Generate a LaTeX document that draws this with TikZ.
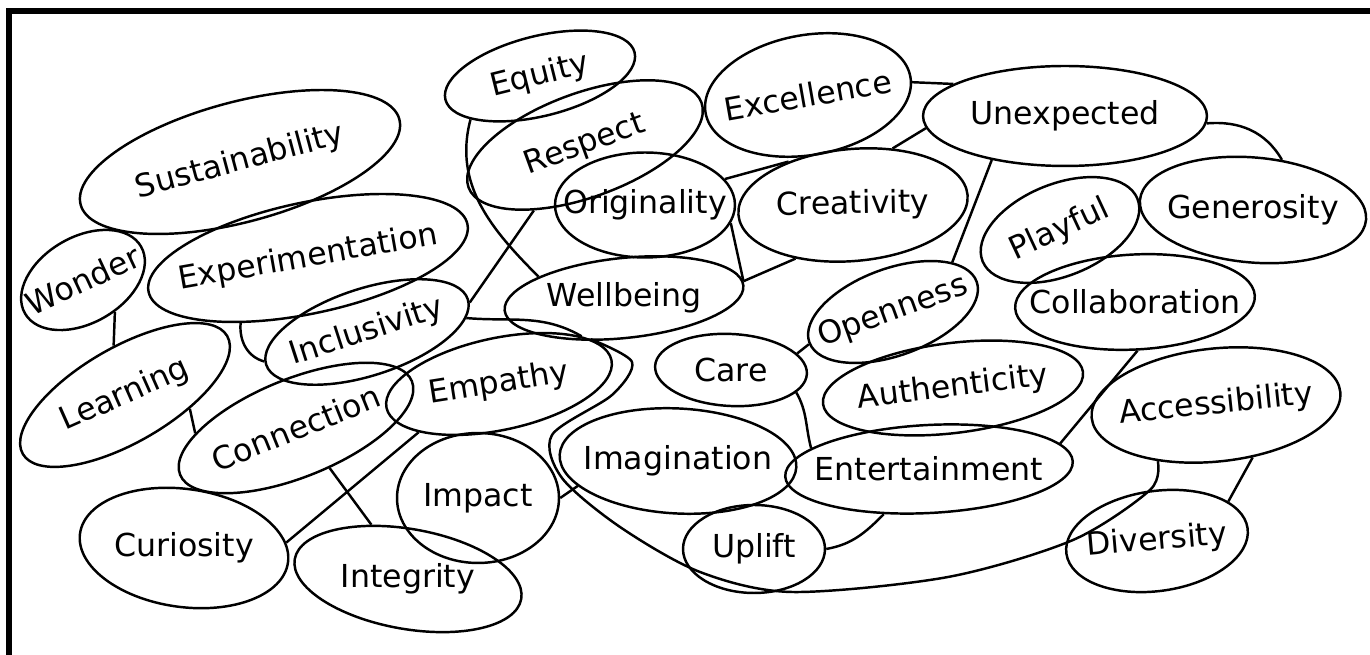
\documentclass[tikz,border=0pt]{standalone}
\usepackage{fontspec}
\usepackage{graphicx}
\setmainfont{DejaVu Sans}
\usetikzlibrary{shapes.geometric}

\newcommand{\word}[2][0]{\makebox[0pt]{\rotatebox[origin=c]{#1}{#2}}}

\begin{document}
\begin{tikzpicture}[x=0.02cm, y=0.02cm,
    blob/.style={ellipse, draw, line width=1.4pt, inner sep=0pt,
        font=\fontsize{18}{20}\selectfont},
    sz/.style 2 args={minimum width=#1cm, minimum height=#2cm},
    link/.style={line width=1.4pt}]
        \useasboundingbox (0,0) rectangle (1370,655);
        \clip (0,0) rectangle (1370,655);
        \draw[line width=3.4pt] (9,644) rectangle (1400,-50);

        % top row
        \node[blob, sz={6.6}{2.4}, rotate=15] (sus) at (240,493) {\word{Sustainability}};
        \node[blob, sz={3.9}{1.6}, rotate=14] (equ) at (540,579) {\word{Equity}};
        \node[blob, sz={4.96}{2.08}, rotate=20] (res) at (585,510) {\word{Respect}};
        \node[blob, sz={4.16}{2.4}, rotate=10] (exc) at (808,560) {\word{Excellence}};
        \node[blob, sz={5.68}{2.0}] (une) at (1065,539) {\word{Unexpected}};
        \node[blob, sz={4.54}{2.1}, rotate=-5] (gen) at (1253,445) {\word[5]{Generosity}};
        \node[blob, sz={3.34}{1.84}, rotate=22] (pla) at (1060,425) {\word[3]{Playful}};
        \node[blob, sz={4.6}{2.24}, rotate=5] (cre) at (853,450) {\word[-4]{Creativity}};
        \node[blob, sz={3.6}{2.1}] (ori) at (645,450) {\word{Originality}};

        % middle
        \node[blob, sz={6.52}{2.22}, rotate=12] (exp) at (308,397) {\word[-2]{Experimentation}};
        \node[blob, sz={2.68}{1.72}, rotate=30] (won) at (83,375) {\word[-5]{Wonder}};
        \node[blob, sz={4.8}{1.6}, rotate=6] (wel) at (624,357) {\word[-6]{Wellbeing}};
        \node[blob, sz={4.8}{1.9}, rotate=3] (col) at (1135,353) {\word[-3]{Collaboration}};
        \node[blob, sz={3.56}{1.74}, rotate=20] (ope) at (893,343) {\word{Openness}};
        \node[blob, sz={4.24}{1.74}, rotate=18] (inc) at (367,323) {\word{Inclusivity}};
        \node[blob, sz={4.72}{1.9}, rotate=30] (lea) at (125,260) {\word[-6]{Learning}};
        \node[blob, sz={4.6}{1.84}, rotate=12] (emp) at (499,271) {\word[-3]{Empathy}};
        \node[blob, sz={3.04}{1.44}, rotate=-3] (car) at (731,285) {\word[3]{Care}};
        \node[blob, sz={5.24}{1.8}, rotate=7] (aut) at (953,267) {\word{Authenticity}};
        \node[blob, sz={5.0}{2.26}, rotate=6] (acc) at (1216,250) {\word{Accessibility}};

        % bottom
        \node[blob, sz={5.0}{1.96}, rotate=22] (con) at (296,227) {\word{Connection}};
        \node[blob, sz={4.74}{2.1}, rotate=-3] (ima) at (678,194) {\word[3]{Imagination}};
        \node[blob, sz={5.76}{1.76}, rotate=3] (ent) at (929,186) {\word[-3]{Entertainment}};
        \node[blob, sz={3.24}{2.6}] (imp) at (478,157) {\word{Impact}};
        \node[blob, sz={4.2}{2.36}, rotate=-8] (cur) at (184,107) {\word[8]{Curiosity}};
        \node[blob, sz={2.84}{1.76}] (upl) at (754,106) {\word{Uplift}};
        \node[blob, sz={3.66}{2.0}, rotate=8] (div) at (1157,114) {\word[-3]{Diversity}};
        \node[blob, sz={4.6}{2.0}, rotate=-10] (int) at (408,76) {\word[10]{Integrity}};

        % links
        \draw[link] (equ.198) to[out=255, in=135] (wel.160);
        \draw[link] (res.212) -- (inc.-2);
        \draw[link] (won.-75) -- (lea.73);
        \draw[link] (exp.212) to[out=265, in=165] (inc.178);
        \draw[link] (inc.-10) to[out=-5, in=150] (emp.18);
        \draw[link] plot[smooth] coordinates {(emp.14) (632,293) (612,260) (552,220)
            (562,177) (620,128) (700,83) (792,63) (948,78) (1073,115) (1150,165) (acc.218)};
        \draw[link] (emp.199) -- (cur.11);
        \draw[link] (lea.-42) -- (con.161);
        \draw[link] (con.-72) -- (int.134);
        \draw[link] (imp.0) -- (ima.197);
        \draw[link] (ori.18) -- (cre.141);
        \draw[link] (ori.-12) -- (wel.2);
        \draw[link] (cre.218) -- (wel.2);
        \draw[link] (exc.-3) -- (une.164);
        \draw[link] (une.185) -- (cre.50);
        \draw[link] (une.211) -- (ope.20);
        \draw[link] (une.-3) to[out=5, in=120] (gen.65);
        \draw[link] (ope.181) -- (car.17);
        \draw[link] (car.-16) to[out=-60, in=105] (ent.167);
        \draw[link] (ent.8) -- (col.-90);
        \draw[link] (ent.222) to[out=225, in=10] (upl.0);
        \draw[link] (acc.-61) -- (div.21);
\end{tikzpicture}
\end{document}
